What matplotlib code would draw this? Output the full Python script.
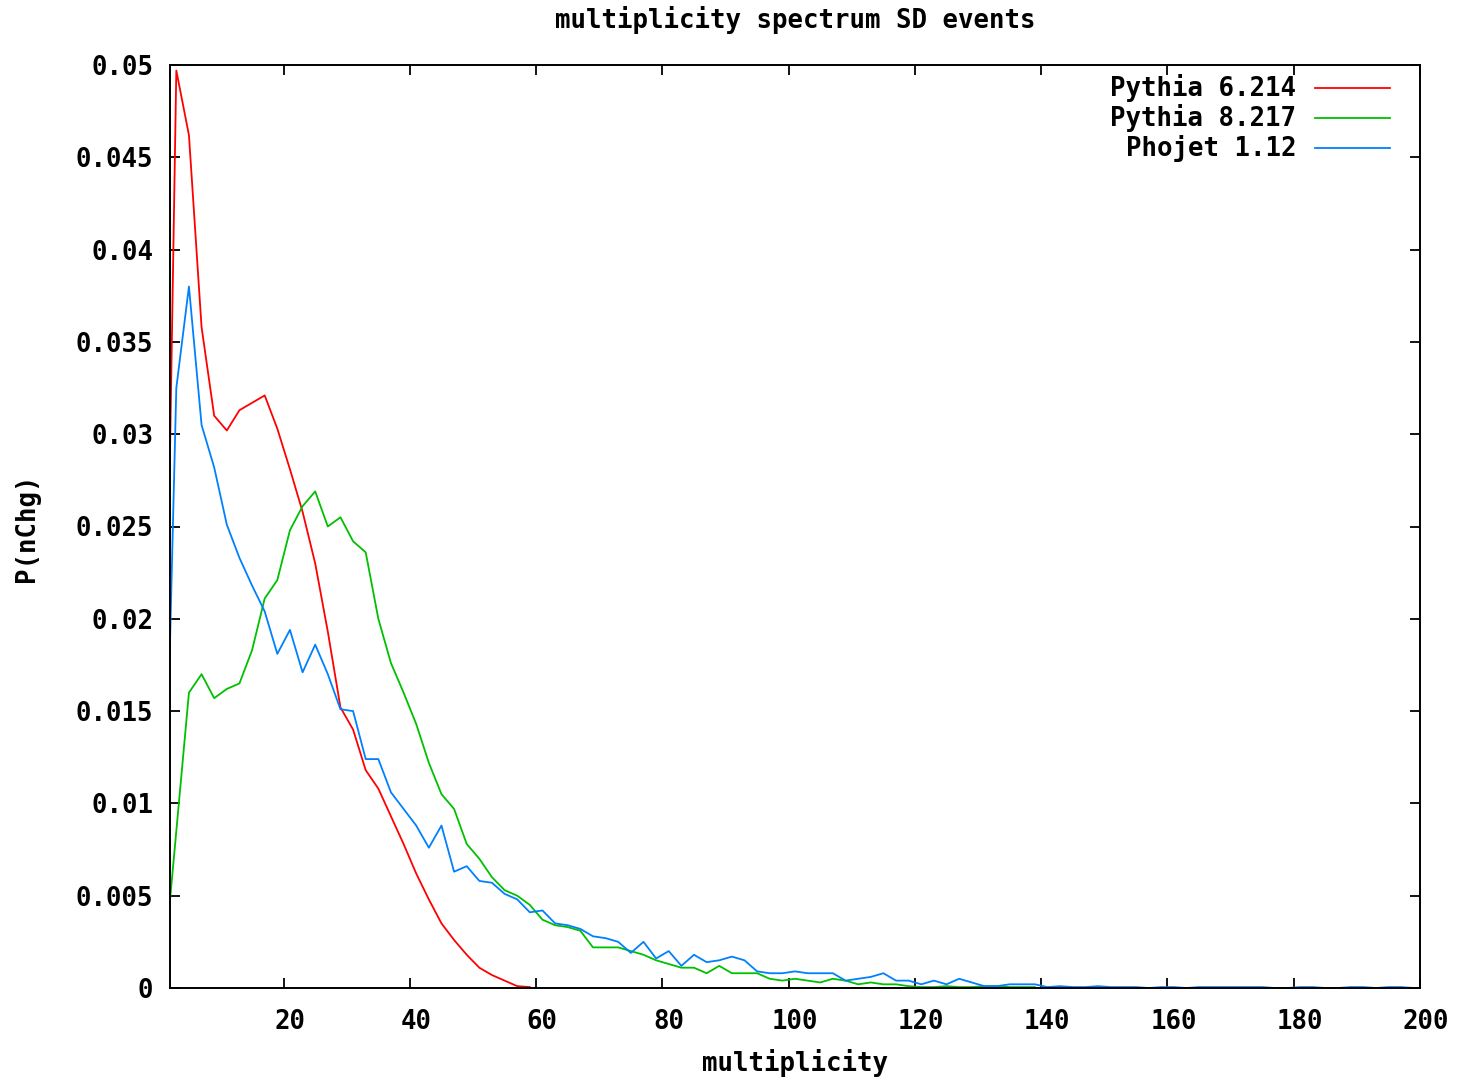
import numpy as np
import matplotlib
matplotlib.use("Agg")
import matplotlib.pyplot as plt
import matplotlib.transforms as mtransforms
from matplotlib.lines import Line2D

# ---------------- data ----------------
labels = ["Pythia 6.214", "Pythia 8.217", "Phojet 1.12"]
colors = ["#ff0000", "#00c000", "#0080ff"]

pythia6 = [0.0083, 0.0497, 0.0462, 0.0358, 0.0310, 0.0302, 0.0313, 0.0317, 0.0321, 0.0303,
           0.0281, 0.0258, 0.0230, 0.0193, 0.0152, 0.0140, 0.0118, 0.0108, 0.0093, 0.0078,
           0.0062, 0.0048, 0.0035, 0.0026, 0.0018, 0.0011, 0.0007, 0.0004, 0.0001, 0.00005]

pythia8 = [0.0010, 0.0085, 0.0160, 0.0170, 0.0157, 0.0162, 0.0165, 0.0183, 0.0211, 0.0221,
           0.0248, 0.0261, 0.0269, 0.0250, 0.0255, 0.0242, 0.0236, 0.0200, 0.0176, 0.0160,
           0.0143, 0.0122, 0.0105, 0.0097, 0.0078, 0.0070, 0.0060, 0.0053, 0.0050, 0.0045,
           0.0037, 0.0034, 0.0033, 0.0031, 0.0022, 0.0022, 0.0022, 0.0020, 0.0018, 0.0015,
           0.0013, 0.0011, 0.0011, 0.0008, 0.0012, 0.0008, 0.0008, 0.0008, 0.0005, 0.0004,
           0.0005, 0.0004, 0.0003, 0.0005, 0.0004, 0.0002, 0.0003, 0.0002, 0.0002, 0.0001,
           0.00005, 0.00005, 0.0001, 0.00005, 0.00005, 0.0001, 0.0001, 0.00005, 0.00005, 0.00005]

phojet = [0.0049, 0.0325, 0.0380, 0.0305, 0.0282, 0.0251, 0.0233, 0.0218, 0.0204, 0.0181,
          0.0194, 0.0171, 0.0186, 0.0170, 0.0151, 0.0150, 0.0124, 0.0124, 0.0106, 0.0097,
          0.0088, 0.0076, 0.0088, 0.0063, 0.0066, 0.0058, 0.0057, 0.0051, 0.0048, 0.0041,
          0.0042, 0.0035, 0.0034, 0.0032, 0.0028, 0.0027, 0.0025, 0.0019, 0.0025, 0.0016,
          0.0020, 0.0012, 0.0018, 0.0014, 0.0015, 0.0017, 0.0015, 0.0009, 0.0008, 0.0008,
          0.0009, 0.0008, 0.0008, 0.0008, 0.0004, 0.0005, 0.0006, 0.0008, 0.0004, 0.0004,
          0.0002, 0.0004, 0.0002, 0.0005, 0.0003, 0.0001, 0.0001, 0.0002, 0.0002, 0.0002,
          0.00005, 0.0001, 0.00005, 0.00005, 0.0001, 0.00005, 0.00005, 0.00005, 0.0, 0.00005,
          0.00005, 0.0, 0.00005, 0.00005, 0.00005, 0.00005, 0.00005, 0.00005, 0.0, 0.0,
          0.00005, 0.00005, 0.0, 0.0, 0.00005, 0.00005, 0.0, 0.00005, 0.00005, 0.0]

series = [pythia6, pythia8, phojet]

x_ticks = [20, 40, 60, 80, 100, 120, 140, 160, 180, 200]
x_tick_labels = [str(v) for v in x_ticks]
y_ticks = [0, 0.005, 0.01, 0.015, 0.02, 0.025, 0.03, 0.035, 0.04, 0.045, 0.05]
y_tick_labels = ["0", "0.005", "0.01", "0.015", "0.02", "0.025", "0.03",
                 "0.035", "0.04", "0.045", "0.05"]

# ---------------- figure ----------------
FONT = "DejaVu Sans Mono"
FS = 18.5
plt.rcParams["font.family"] = FONT
plt.rcParams["font.weight"] = "bold"

W, H = 1462, 1080
fig = plt.figure(figsize=(W / 100, H / 100), dpi=100)
L, R, T, B = 170, 1420, 65, 988
ax = fig.add_axes([L / W, 1 - B / H, (R - L) / W, (B - T) / H])

for vals, col in zip(series, colors):
    xs = np.arange(1, 2 * len(vals) + 1, 2)
    ax.plot(xs, vals, color=col, lw=1.3, zorder=2)

ax.set_xlim(2, 200)
ax.set_ylim(0, 0.05)

ax.set_xticks(x_ticks)
ax.set_xticklabels(x_tick_labels, fontsize=FS, fontweight="bold", family=FONT)
ax.set_yticks(y_ticks)
ax.set_yticklabels(y_tick_labels, fontsize=FS, fontweight="bold", family=FONT)
ax.tick_params(axis="both", direction="in", length=7, width=1.3, color="black",
               top=True, right=True)
ax.tick_params(axis="x", pad=15)
ax.tick_params(axis="y", pad=12)

offset = mtransforms.ScaledTranslation(6 / 100, 0, fig.dpi_scale_trans)
for lbl in ax.get_xticklabels():
    lbl.set_transform(lbl.get_transform() + offset)

for sp in ax.spines.values():
    sp.set_linewidth(1.4)
    sp.set_color("black")
    sp.set_zorder(2.5)

ax.set_title("multiplicity spectrum SD events", fontsize=FS, fontweight="bold",
             family=FONT, y=(B - 20) / (B - T), va="center", pad=0)
ax.set_xlabel("multiplicity", fontsize=FS, fontweight="bold", family=FONT, va="center")
ax.xaxis.set_label_coords(0.5, (B - 1063) / (B - T))
ax.set_ylabel("P(nChg)", fontsize=FS, fontweight="bold", family=FONT, va="center")
ax.yaxis.set_label_coords((27 - L) / (R - L), (B - 528) / (B - T))

# legend (right-aligned labels, sample lines to the right, as in gnuplot)
aw, ah = R - L, B - T
for i, (lab, col) in enumerate(zip(labels, colors)):
    yrow = 88 + 30 * i
    ya = (B - yrow) / ah
    ax.text((1296 - L) / aw, ya, lab, transform=ax.transAxes, ha="right", va="center",
            fontsize=FS, fontweight="bold", family=FONT)
    ax.add_line(Line2D([(1315 - L) / aw, (1390 - L) / aw], [ya, ya], color=col, lw=1.3,
                       transform=ax.transAxes))

fig.savefig("out.png", dpi=100, facecolor="white")
